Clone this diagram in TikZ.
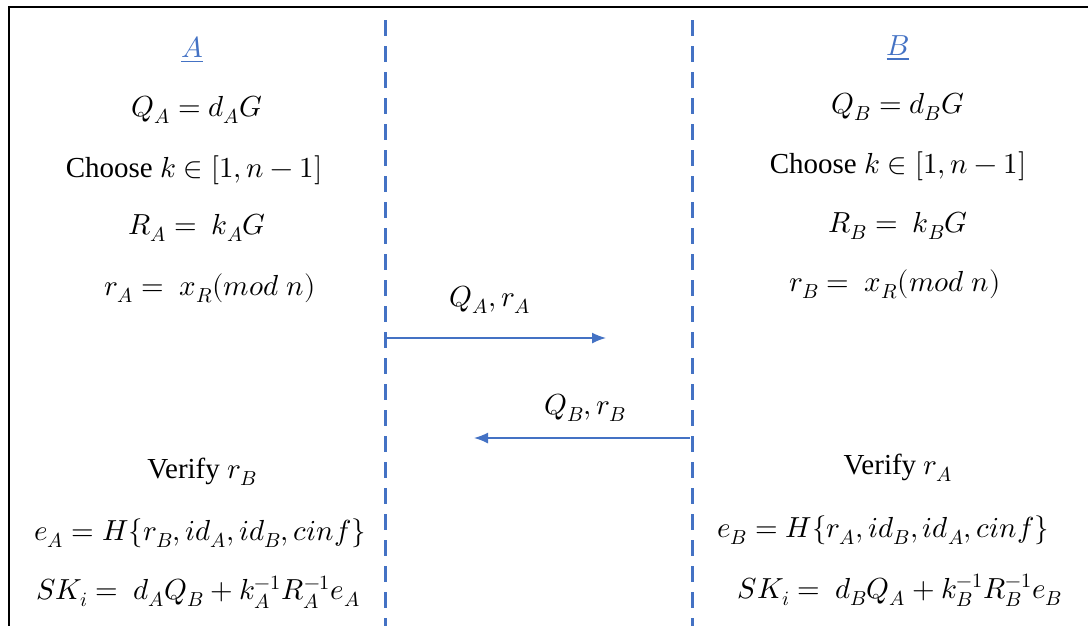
\documentclass[tikz,border=0pt]{standalone}
\usepackage{unicode-math}
\setmainfont{Liberation Serif}
\setmathfont{Latin Modern Math}
\usetikzlibrary{arrows.meta}
\definecolor{lineblue}{HTML}{4472C4}
\tikzset{
  txt/.style={inner sep=0pt, font=\fontsize{29}{34}\selectfont},
  lifeline/.style={draw=lineblue, line width=3pt, dash pattern=on 16pt off 10pt},
  msg/.style={draw=lineblue, line width=1.5pt, -{Latex[length=14pt,width=11pt]}},
  frame/.style={draw=black, line width=2pt}
}
\begin{document}
\begin{tikzpicture}[x=1pt,y=-1pt]
\useasboundingbox (0,0) rectangle (1088,625);
% frame
\draw[frame] (9,626) -- (9,7) -- (1090,7);
% lifelines
\coordinate (la1) at (385,20);
\coordinate (la2) at (385,626);
\coordinate (lb1) at (692,20);
\coordinate (lb2) at (692,626);
\draw[lifeline] (la1) -- (la2);
\draw[lifeline] (lb1) -- (lb2);
% party A
\node[txt, text=lineblue] (hA) at (192,50) {\underline{$A$}};
\node[txt] (a1) at (197,110) {$Q_A = d_A G$};
\node[txt] (a2) at (194,170) {Choose $k \in [1, n-1]$};
\node[txt] (a3) at (197,228) {$R_A =\ k_A G$};
\node[txt] (a4) at (210,288) {$r_A =\ x_R(mod\ n)$};
\node[txt] (a5) at (202,472) {Verify $r_B$};
\node[txt] (a6) at (200,533) {$e_A = H\{r_B, id_A, id_B, cinf\}$};
\node[txt] (a7) at (198,592) {$SK_i =\ d_A Q_B + k_A^{-1} R_A^{-1} e_A$};
% party B
\node[txt, text=lineblue] (hB) at (898,48) {\underline{$B$}};
\node[txt] (b1) at (898,107) {$Q_B = d_B G$};
\node[txt] (b2) at (898,166) {Choose $k \in [1, n-1]$};
\node[txt] (b3) at (898,226) {$R_B =\ k_B G$};
\node[txt] (b4) at (895,284) {$r_B =\ x_R(mod\ n)$};
\node[txt] (b5) at (898,468) {Verify $r_A$};
\node[txt] (b6) at (883,530) {$e_B = H\{r_A, id_B, id_A, cinf\}$};
\node[txt] (b7) at (900,590) {$SK_i =\ d_B Q_A + k_B^{-1} R_B^{-1} e_B$};
% messages
\coordinate (m1s) at (387,338);
\coordinate (m1e) at (606,338);
\coordinate (m2s) at (690,438);
\coordinate (m2e) at (474,438);
\draw[msg] (m1s) -- (m1e);
\draw[msg] (m2s) -- (m2e);
\node[txt] (l1) at (490,300) {$Q_A, r_A$};
\node[txt] (l2) at (585,408) {$Q_B, r_B$};
\end{tikzpicture}
\end{document}
